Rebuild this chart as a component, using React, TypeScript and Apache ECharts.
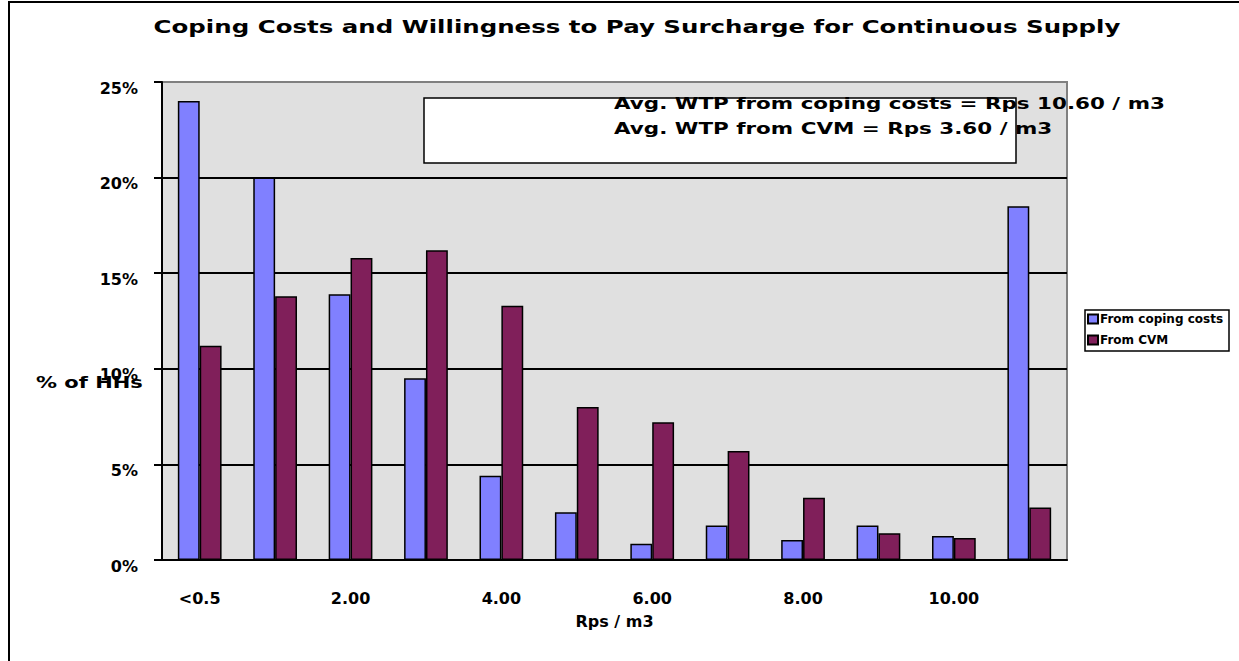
import React, { useEffect, useRef } from "react";
import * as echarts from "echarts";

// Price bands (Rps / m3)
const categories = ["<0.5", "1.00", "2.00", "3.00", "4.00", "5.00", "6.00", "7.00", "8.00", "9.00", "10.00", ">10.00"];
// Share of households (%) per band
const copingCosts = [24.0, 20.0, 13.9, 9.5, 4.4, 2.5, 0.85, 1.8, 1.05, 1.8, 1.25, 18.5];
const cvm = [11.2, 13.8, 15.8, 16.2, 13.3, 8.0, 7.2, 5.7, 3.25, 1.4, 1.15, 2.75];
const seriesNames = ["From coping costs", "From CVM"];
const titleText = "Coping Costs and Willingness to Pay Surcharge for Continuous Supply";
const noteLines = ["Avg. WTP from coping costs = Rps 10.60 / m3", "Avg. WTP from CVM = Rps 3.60 / m3"];

const FONT = "'DejaVu Sans', sans-serif";
const BLUE = "#8080FF";
const MAROON = "#801F5A";

export default function App() {
  const ref = useRef<HTMLDivElement>(null);

  useEffect(() => {
    if (!ref.current) return;
    const chart = echarts.init(ref.current, undefined, { renderer: "svg" });
    const barStyle = (color: string) => ({ color, borderColor: "#000", borderWidth: 1.5 });
    const boldText = (size: number) => ({
      fontFamily: FONT,
      fontWeight: "bold",
      fontSize: size,
      fill: "#000",
    });
    chart.setOption({
      animation: false,
      backgroundColor: "#fff",
      textStyle: { fontFamily: FONT },
      grid: {
        left: 162,
        right: 172,
        top: 82,
        bottom: 101,
        show: true,
        backgroundColor: "#E0E0E0",
        borderColor: "#808080",
        borderWidth: 2,
      },
      legend: {
        orient: "vertical",
        left: 1087,
        top: 313,
        itemWidth: 10,
        itemHeight: 9,
        itemGap: 9,
        icon: "rect",
        padding: 0,
        data: seriesNames,
        textStyle: { fontFamily: FONT, fontWeight: "bold", fontSize: 12, color: "#000", padding: [0, 0, 0, -3] },
      },
      xAxis: [
        {
          type: "category",
          data: categories,
          position: "bottom",
          axisLine: { lineStyle: { color: "#000", width: 2 } },
          axisTick: { length: 7, lineStyle: { color: "#000", width: 2 } },
          axisLabel: {
            interval: 1,
            margin: 30,
            color: "#000",
            fontFamily: FONT,
            fontWeight: "bold",
            fontSize: 16,
          },
          name: "Rps / m3",
          nameLocation: "middle",
          nameGap: 53,
          nameTextStyle: { color: "#000", fontFamily: FONT, fontWeight: "bold", fontSize: 16 },
        },
        {
          type: "category",
          data: categories,
          position: "bottom",
          axisLine: { show: false },
          axisTick: { inside: true, length: 6, lineStyle: { color: "#000", width: 2 } },
          axisLabel: { show: false },
        },
      ],
      yAxis: {
        type: "value",
        min: 0,
        max: 25,
        interval: 5,
        axisLine: { show: true, lineStyle: { color: "#000", width: 2 } },
        axisTick: { show: true, length: 8, lineStyle: { color: "#000", width: 2 } },
        axisLabel: {
          formatter: "{value}%",
          margin: 24,
          verticalAlign: "top",
          lineHeight: 12,
          color: "#000",
          fontFamily: FONT,
          fontWeight: "bold",
          fontSize: 16,
        },
        splitLine: {
          lineStyle: { color: ["#000", "#000", "#000", "#000", "#000", "#808080"], width: 2 },
        },
      },
      series: [
        {
          name: seriesNames[0],
          type: "bar",
          data: copingCosts,
          barGap: "0%",
          barCategoryGap: "42%",
          itemStyle: barStyle(BLUE),
        },
        {
          name: seriesNames[1],
          type: "bar",
          data: cvm,
          itemStyle: barStyle(MAROON),
        },
      ],
      graphic: [
        // outer frame
        { type: "line", shape: { x1: 8, y1: 2, x2: 1239, y2: 2 }, style: { stroke: "#000", lineWidth: 2 } },
        { type: "line", shape: { x1: 9, y1: 2, x2: 9, y2: 661 }, style: { stroke: "#000", lineWidth: 2 } },
        {
          type: "text",
          x: 637,
          y: 27,
          scaleX: 1.44,
          style: { ...boldText(17), text: titleText, textAlign: "center", textVerticalAlign: "middle" },
        },
        // annotation box
        {
          type: "rect",
          shape: { x: 424, y: 98, width: 592, height: 65 },
          style: { fill: "#fff", stroke: "#000", lineWidth: 1.5 },
          z: 50,
        },
        ...noteLines.map((t, i) => ({
          type: "text",
          x: 614,
          y: 104 + i * 25,
          scaleX: 1.43,
          z: 60,
          style: { ...boldText(15), text: t, textAlign: "left", textVerticalAlign: "middle" },
        })),
        {
          type: "text",
          x: 36,
          y: 383,
          scaleX: 1.4,
          z: 60,
          style: { ...boldText(15), text: "% of HHs", textAlign: "left", textVerticalAlign: "middle" },
        },
        // legend frame
        {
          type: "rect",
          shape: { x: 1085, y: 310, width: 144, height: 41 },
          style: { fill: "#fff", stroke: "#000", lineWidth: 1.5 },
          z: -1,
        },
      ],
    });
    return () => chart.dispose();
  }, []);

  return (
    <div
      ref={ref}
      style={{ position: "fixed", left: 0, top: 0, width: 1239, height: 661, background: "#fff" }}
    />
  );
}
